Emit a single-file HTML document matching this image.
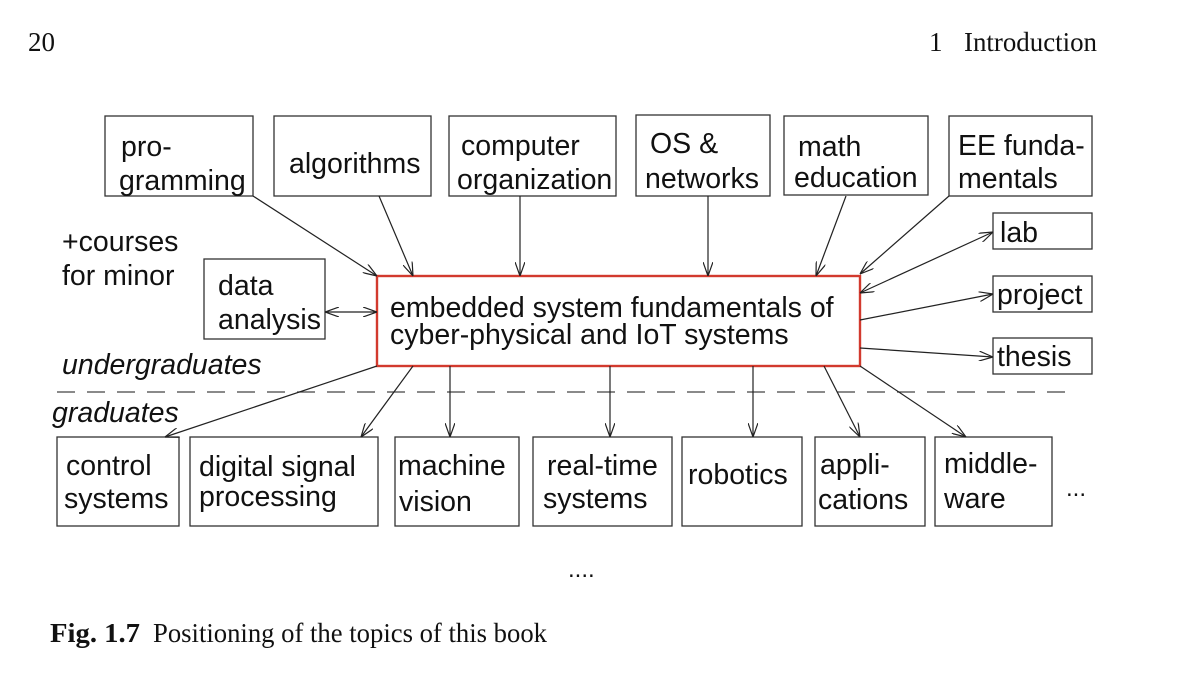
<!DOCTYPE html>
<html><head><meta charset="utf-8"><style>
body{margin:0;background:#fff}
svg{display:block}
.t{font-family:"Liberation Sans",sans-serif;font-size:28.5px;fill:#111}
.i{font-style:italic}
.s{font-family:"Liberation Serif",serif;font-size:27px;fill:#111}
rect{fill:none;stroke:#333;stroke-width:1.3}
line{stroke:#222;stroke-width:1.2}
</style></head><body>
<svg width="1200" height="680" viewBox="0 0 1200 680">
<defs>
<marker id="a" viewBox="0 0 14 10" refX="14" refY="5" markerWidth="14" markerHeight="10" markerUnits="userSpaceOnUse" orient="auto-start-reverse">
<path d="M0,0 L14,5 L0,10" fill="none" stroke="#222" stroke-width="1.2"/>
</marker>
</defs>
<text class="s" x="28" y="51">20</text>
<text class="s" x="929" y="51">1</text>
<text class="s" x="964" y="51" textLength="133" lengthAdjust="spacingAndGlyphs">Introduction</text>

<rect x="105" y="116" width="148" height="80"/>
<rect x="274" y="116" width="157" height="80"/>
<rect x="449" y="116" width="167" height="80"/>
<rect x="636" y="115" width="134" height="81"/>
<rect x="784" y="116" width="144" height="79"/>
<rect x="949" y="116" width="143" height="80"/>
<rect x="993" y="213" width="99" height="36"/>
<rect x="993" y="276" width="99" height="36"/>
<rect x="993" y="338" width="99" height="36"/>
<rect x="204" y="259" width="121" height="80"/>
<rect x="377" y="276" width="483" height="90" style="stroke:#d23a2e;stroke-width:2.4"/>
<rect x="57" y="437" width="122" height="89"/>
<rect x="190" y="437" width="188" height="89"/>
<rect x="395" y="437" width="124" height="89"/>
<rect x="533" y="437" width="139" height="89"/>
<rect x="682" y="437" width="120" height="89"/>
<rect x="815" y="437" width="110" height="89"/>
<rect x="935" y="437" width="117" height="89"/>

<line x1="57" y1="392" x2="1076" y2="392" style="stroke:#444;stroke-dasharray:18,12"/>

<g marker-end="url(#a)">
<line x1="253" y1="196" x2="377" y2="276"/>
<line x1="379" y1="196" x2="413" y2="276"/>
<line x1="520" y1="196" x2="520" y2="276"/>
<line x1="708" y1="196" x2="708" y2="276"/>
<line x1="846" y1="196" x2="816" y2="276"/>
<line x1="949" y1="196" x2="860" y2="274"/>
<line x1="860" y1="320" x2="993" y2="294"/>
<line x1="860" y1="348" x2="993" y2="357"/>
<line x1="377" y1="366" x2="165" y2="437"/>
<line x1="413" y1="366" x2="361" y2="437"/>
<line x1="450" y1="366" x2="450" y2="437"/>
<line x1="610" y1="366" x2="610" y2="437"/>
<line x1="753" y1="366" x2="753" y2="437"/>
<line x1="824" y1="366" x2="860" y2="437"/>
<line x1="860" y1="366" x2="966" y2="437"/>
</g>
<line x1="860" y1="293" x2="993" y2="232" marker-start="url(#a)" marker-end="url(#a)"/>
<line x1="325" y1="312" x2="377" y2="312" marker-start="url(#a)" marker-end="url(#a)"/>

<text class="t" x="121" y="156">pro-</text><text class="t" x="119" y="190">gramming</text>
<text class="t" x="289" y="173">algorithms</text>
<text class="t" x="461" y="155">computer</text><text class="t" x="457" y="189">organization</text>
<text class="t" x="650" y="153">OS &amp;</text><text class="t" x="645" y="188">networks</text>
<text class="t" x="798" y="156">math</text><text class="t" x="794" y="187">education</text>
<text class="t" x="958" y="155">EE funda-</text><text class="t" x="958" y="188">mentals</text>
<text class="t" x="1000" y="242">lab</text>
<text class="t" x="997" y="304">project</text>
<text class="t" x="997" y="366">thesis</text>
<text class="t" x="218" y="295">data</text><text class="t" x="218" y="329">analysis</text>
<text class="t" x="390" y="317">embedded system fundamentals of</text>
<text class="t" x="390" y="344">cyber-physical and IoT systems</text>
<text class="t" x="62" y="251">+courses</text><text class="t" x="62" y="285">for minor</text>
<text class="t i" x="62" y="374">undergraduates</text>
<text class="t i" x="52" y="422">graduates</text>
<text class="t" x="66" y="475">control</text><text class="t" x="64" y="508">systems</text>
<text class="t" x="199" y="476">digital signal</text><text class="t" x="199" y="506">processing</text>
<text class="t" x="398" y="475">machine</text><text class="t" x="399" y="511">vision</text>
<text class="t" x="547" y="475">real-time</text><text class="t" x="543" y="508">systems</text>
<text class="t" x="688" y="484">robotics</text>
<text class="t" x="820" y="474">appli-</text><text class="t" x="818" y="509">cations</text>
<text class="t" x="944" y="473">middle-</text><text class="t" x="944" y="508">ware</text>
<text class="t" x="1066" y="496" style="font-size:24px">...</text>
<text class="t" x="568" y="577" style="font-size:24px">....</text>

<text class="s" x="50" y="642" font-weight="bold" textLength="90" lengthAdjust="spacingAndGlyphs">Fig. 1.7</text>
<text class="s" x="153" y="642" textLength="394" lengthAdjust="spacingAndGlyphs">Positioning of the topics of this book</text>
</svg>
</body></html>
